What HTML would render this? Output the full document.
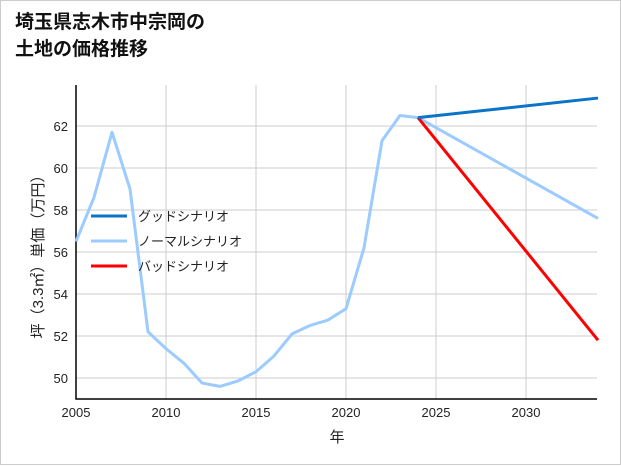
<!DOCTYPE html>
<html><head><meta charset="utf-8"><style>
html,body{margin:0;padding:0;background:#fff}
#wrap{position:relative;width:619px;height:463px;border:1px solid #ccc;background:#fff;font-family:"Liberation Sans","Noto Sans CJK JP",sans-serif}
#title{position:absolute;left:14px;top:8px;font-size:19px;font-weight:bold;line-height:27px;color:#111}
svg{position:absolute;left:0;top:0}
</style></head><body>
<div id="wrap">
<div id="title">埼玉県志木市中宗岡の<br>土地の価格推移</div>
<svg id="chart" width="621" height="465"></svg>
</div>
<script>
const years=[2005,2006,2007,2008,2009,2010,2011,2012,2013,2014,2015,2016,2017,2018,2019,2020,2021,2022,2023,2024];
const normalHist=[56.5,58.6,61.7,59.0,52.2,51.4,50.7,49.76,49.6,49.86,50.3,51.05,52.1,52.5,52.76,53.3,56.2,61.3,62.5,62.4];
const projYears=[2024,2034];
const goodVals=[62.4,63.33];
const normalVals=[62.4,57.6];
const badVals=[62.4,51.8];
const xTicks=[2005,2010,2015,2020,2025,2030];
const yTicks=[50,52,54,56,58,60,62];
const legendLabels=["グッドシナリオ","ノーマルシナリオ","バッドシナリオ"];
const colors=["#0a74c9","#9ccbff","#ff0000"];

const NS="http://www.w3.org/2000/svg";
const svg=document.getElementById('chart');
const L=75,R=596,T=84,B=398;
const x=v=>L+(v-2005)*18;
const y=v=>377-(v-50)*21;
function mk(t,a,p){const e=document.createElementNS(NS,t);for(const k in a)e.setAttribute(k,a[k]);(p||svg).appendChild(e);return e;}
// grid
xTicks.forEach(t=>{const g=mk('line',{x1:x(t),x2:x(t),y1:T,y2:B,stroke:'#ccc','stroke-width':1});


const tx=mk('text',{x:x(t),y:B+18,'text-anchor':'middle','font-size':13,fill:'#222'});tx.textContent=t;

});
yTicks.forEach(t=>{const g=mk('line',{x1:L,x2:R,y1:y(t),y2:y(t),stroke:'#ccc','stroke-width':1});


const tx=mk('text',{x:L-8,y:y(t)+5,'text-anchor':'end','font-size':13,fill:'#222'});tx.textContent=t;

});
// axes
const ax=mk('path',{d:`M${L},${T}V${B}H${R}`,fill:'none',stroke:'#000','stroke-width':1.5});


function line(xs,vs,c,name){const p=mk('polyline',{points:xs.map((v,i)=>x(v)+','+y(vs[i])).join(' '),fill:'none',stroke:c,'stroke-width':3,'stroke-linejoin':'round'});

}
line(years,normalHist,colors[1],'normal-history-line');
line(projYears,normalVals,colors[1],'normal-scenario-line');
line(projYears,badVals,colors[2],'bad-scenario-line');
line(projYears,goodVals,colors[0],'good-scenario-line');
// legend
legendLabels.forEach((lab,i)=>{const yy=215+i*25;
const l=mk('line',{x1:90,x2:126,y1:yy,y2:yy,stroke:colors[i],'stroke-width':3});


const t=mk('text',{x:137,y:yy+5,'font-size':13,fill:'#222'});t.textContent=lab;

});
// axis titles
const xt=mk('text',{x:336,y:441,'text-anchor':'middle','font-size':15,fill:'#222'});xt.textContent='年';


const yt=mk('text',{x:0,y:0,'text-anchor':'middle','font-size':15,fill:'#222',transform:'translate(42,252) rotate(-90)'});yt.textContent='坪（3.3㎡）単価（万円）';


</script>
</body></html>
